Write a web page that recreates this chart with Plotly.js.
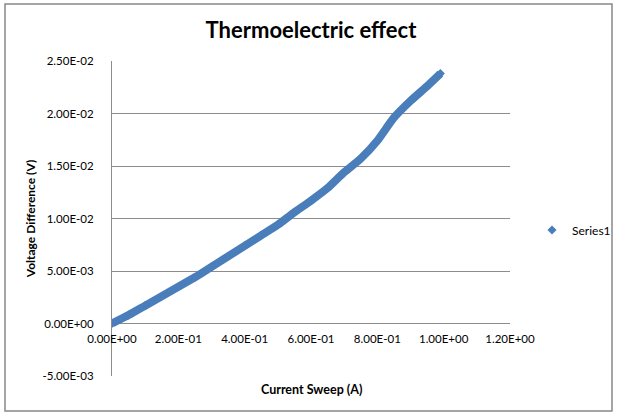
<!DOCTYPE html>
<html>
<head>
<meta charset="utf-8">
<script src="https://cdn.plot.ly/plotly-3.0.1.min.js"></script>
<style>html,body{margin:0;padding:0;background:#fff}#chart{width:620px;height:418px}</style>
</head>
<body>
<div id="chart"></div>
<script>
// Data
var currentSweep = [0, 0.05, 0.10, 0.15, 0.20, 0.25, 0.30, 0.35, 0.40, 0.45, 0.50, 0.55, 0.60, 0.65, 0.70, 0.75, 0.80, 0.85, 0.90, 0.95, 0.99];
var voltageDiff = [0, 0.0008, 0.0017, 0.0026, 0.0035, 0.0044, 0.0054, 0.0064, 0.0074, 0.0084, 0.0094, 0.0106, 0.0117, 0.0129, 0.0144, 0.0157, 0.0174, 0.0196, 0.0212, 0.0226, 0.0238];
var seriesName = "Series1";
var xTickVals = [0, 0.2, 0.4, 0.6, 0.8, 1.0, 1.2];
var xTickText = ["0.00E+00", "2.00E-01", "4.00E-01", "6.00E-01", "8.00E-01", "1.00E+00", "1.20E+00"];
var yTickVals = [-0.005, 0, 0.005, 0.01, 0.015, 0.02, 0.025];
var yTickText = ["-5.00E-03", "0.00E+00", "5.00E-03", "1.00E-02", "1.50E-02", "2.00E-02", "2.50E-02"];
var chartTitle = "Thermoelectric effect";
var xTitle = "Current Sweep (A)";
var yTitle = "Voltage Difference (V)";

var blue = "#4a7ebb";
var font = "Lato, 'Open Sans', sans-serif";

var traces = [
  {x: currentSweep, y: voltageDiff, mode: "lines", line: {color: blue, width: 8, shape: "spline", smoothing: 0.6}, showlegend: false, legendgroup: "s1", hoverinfo: "skip"},
  {x: currentSweep, y: voltageDiff, mode: "markers", name: seriesName, legendgroup: "s1",
   marker: {symbol: "diamond", size: 7, color: blue}}
];

var W = 620, H = 418, L = 112, R = 110, T = 61, B = 42;
var pw = W - L - R, ph = H - T - B;
function px(x){ return (x - L) / pw; }
function py(y){ return (H - B - y) / ph; }

var layout = {
  width: W, height: H,
  margin: {l: L, r: R, t: T, b: B, autoexpand: false},
  paper_bgcolor: "#ffffff", plot_bgcolor: "#ffffff",
  font: {family: font, size: 12, color: "#000"},
  title: {text: "<b>" + chartTitle + "</b>", font: {size: 22, family: font, color: "#000"}, x: 0.5, xref: "paper", y: 1 - 30/H, yanchor: "middle"},
  xaxis: {
    range: [0, 1.2], tickvals: xTickVals, ticktext: xTickText,
    showgrid: false, zeroline: false, showline: false, ticks: "",
    anchor: "free", position: 1/6, ticklabelstandoff: 7,
    tickfont: {size: 11.5, family: font}
  },
  yaxis: {
    range: [-0.005, 0.025], tickvals: yTickVals, ticktext: yTickText,
    showgrid: true, gridcolor: "#8c8c8c", gridwidth: 1, zeroline: false,
    showline: true, linecolor: "#8c8c8c", linewidth: 1, ticks: "",
    ticklabelstandoff: 15, tickfont: {size: 11.5, family: font},
    title: {text: "<b>" + yTitle + "</b>", font: {size: 12, family: font}, standoff: 4}
  },
  legend: {x: px(532), y: py(230), xanchor: "left", yanchor: "middle", bgcolor: "rgba(0,0,0,0)", font: {size: 12, family: font}, itemwidth: 30},
  annotations: [
    {text: "<b>" + xTitle + "</b>", xref: "paper", yref: "paper", x: px(311), y: py(389), showarrow: false, xanchor: "center", yanchor: "middle", font: {size: 12.5, family: font}}
  ],
  shapes: [
    {type: "rect", xref: "paper", yref: "paper", x0: px(5), x1: px(612), y0: py(411), y1: py(4), line: {color: "#888888", width: 1.5}, layer: "below"}
  ]
};

Plotly.newPlot("chart", traces, layout, {displayModeBar: false, staticPlot: true});
</script>
</body>
</html>
